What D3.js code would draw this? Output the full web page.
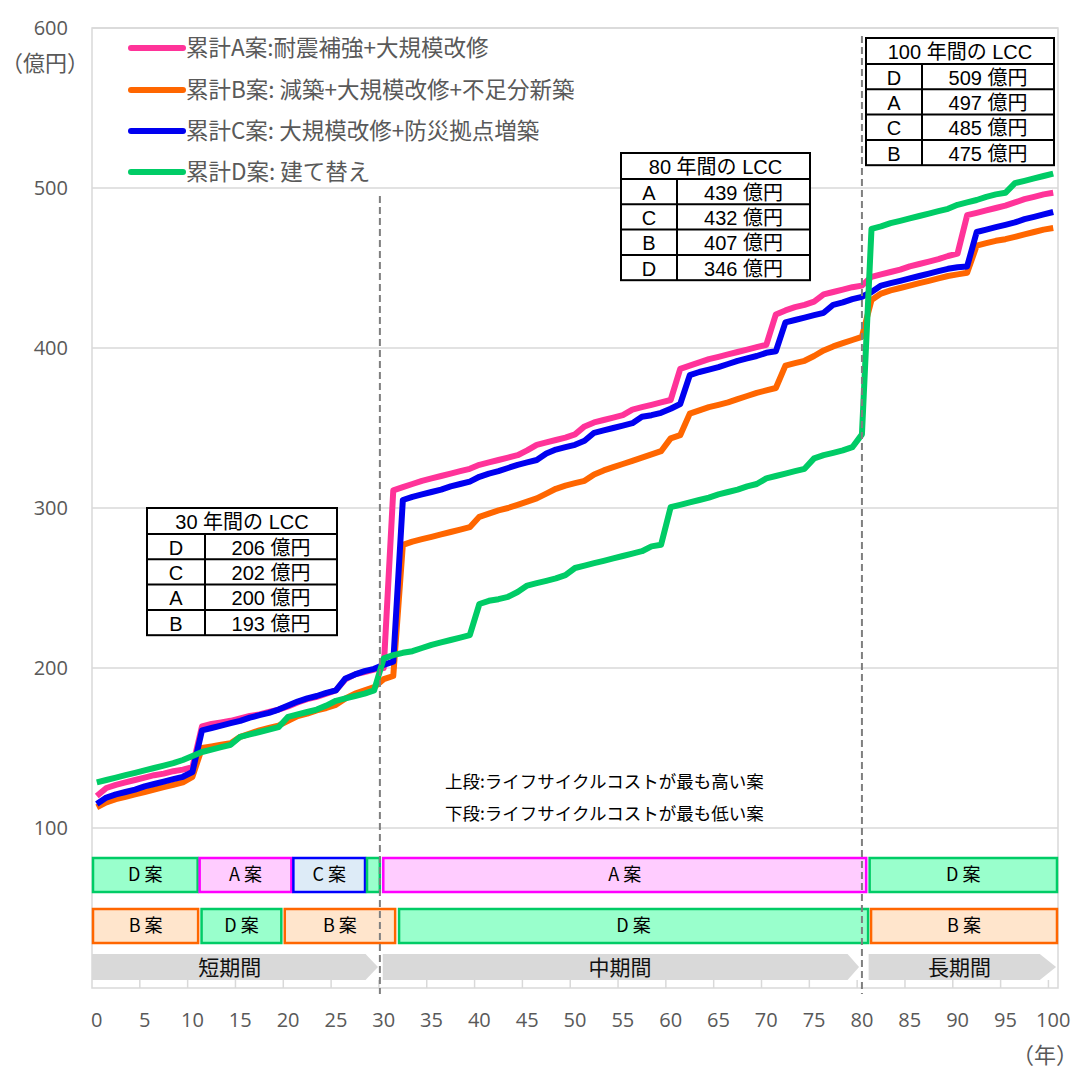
<!DOCTYPE html>
<meta charset="utf-8">
<style>
body { margin: 0; background: #fff; }
.tick-label { font-family: "Open Sans", "Noto Sans", sans-serif; font-size: 20px; fill: #595959; }
.jp { font-family: "Noto Sans CJK JP", sans-serif; }
.tbl { font-family: "Liberation Sans", "Noto Sans CJK JP", sans-serif; font-size: 20px; fill: #000; }
</style>
<svg width="1077" height="1068"></svg>
<script src="https://cdn.jsdelivr.net/npm/d3@7"></script>
<script>

// cumulative cost (億円) for year 0..100
var planA = [120,125,127,128.5,130,131.5,133,134,135.5,136.5,138,
  163.5,165,166,167,168.5,170,171,172.5,174,176,178.5,180.5,182,184,186,193,196,197.5,199,200,
  311,313,315,317,318.5,320,321.5,323,324.5,327,328.5,330,331.5,333,336,339.5,341,342.5,344,346,
  351,353.5,355,356.5,358,361.5,363,364.5,366,367.5,387,389,391,393,394.5,396,397.5,399,400.5,402,
  421,423.5,425.5,427,429,433.5,435,436.5,438,439,444.5,446,447.5,449,451,452.5,454,455.5,457.5,459,
  483,484.5,486,487.5,489,491,493,494.5,496,497];

var planB = [113,116,118,119.5,121,122.5,124,125.5,127,128.5,132,
  150,151,152,153,157,159,161,162.5,164,167,170,171.5,173.5,175,177,181,184,186,188,193,
  195,277,279,280.5,282,283.5,285,286.5,288,294.5,296.5,298.5,300,302,304,306,309,312,314,315.5,
  317,321,323.5,325.5,327.5,329.5,331.5,333.5,335.5,343.5,345.5,359,361,363,364.5,366,368,370,372,373.5,
  375,389,390.5,392,395,398.5,401,403,405,407,430,434,436,437.5,439,440.5,442,443.5,445,446,
  447,464,465.5,467,468,469.5,471,472.5,474,475];

var planC = [115,119,121,122.5,124,126,127.5,129,130.5,132,135,
  161,162.5,164,165.5,167,169,170.5,172,174,176.5,179,181,182.5,184.5,186,193.5,196,198,199.5,202,
  204,305,307,308.5,310,311.5,313.5,315,316.5,319.5,321.5,323,325,327,328.5,330,334,336.5,338,339.5,
  342,347,348.5,350,351.5,353,357,358,359.5,362,365,383,385,386.5,388,390,392,393.5,395,397,
  398,416,417.5,419,420.5,422,427,428.5,430.5,432,435,439,440.5,442,443.5,445,446.5,448,449.5,450.5,
  451,472.5,474,475.5,477,478.5,480.5,482,483.5,485];

var planD = [128.5,130,131.5,133,134.5,136,137.5,139,140.5,142.5,145,
  147.5,149,150.5,152,157,158.5,160,161.5,163,169.5,171,172.5,174,176.5,179.5,181,182.5,184,186,206,
  208,209.5,210.5,212.5,214.5,216,217.5,219,220.5,240,242,243,244.5,247.5,251.5,253,254.5,256,258,262.5,
  264,265.5,267,268.5,270,271.5,273,276,277,300.5,302,303.5,305,306.5,308.5,310,311.5,313.5,315,318.5,
  320,321.5,323,324.5,331,333,334.5,336,338,346,474.5,476,478,479.5,481,482.5,484,485.5,487,489.5,
  491,492.5,494.5,496,497,503,504.5,506,507.5,509];

var seriesNames = ["累計A案:耐震補強+大規模改修", "累計B案: 減築+大規模改修+不足分新築",
                   "累計C案: 大規模改修+防災拠点増築", "累計D案: 建て替え"];
var seriesColors = ["#FF3399", "#FF6600", "#0000F0", "#00CC66"];
var seriesData = [planA, planB, planC, planD];

var yTicks = [100, 200, 300, 400, 500, 600];
var xTicks = d3.range(0, 101, 5);

// LCC tables
var lcc30 = [["D", "206 億円"], ["C", "202 億円"], ["A", "200 億円"], ["B", "193 億円"]];
var lcc80 = [["A", "439 億円"], ["C", "432 億円"], ["B", "407 億円"], ["D", "346 億円"]];
var lcc100 = [["D", "509 億円"], ["A", "497 億円"], ["C", "485 億円"], ["B", "475 億円"]];

// best/worst plan bands (years)
var upperRow = [[-0.5, 10.65, "D"], [10.65, 20.45, "A"], [20.45, 28.15, "C"], [28.15, 29.7, "D"],
                [29.85, 80.55, "A"], [80.7, 100.5, "D"]];
var lowerRow = [[-0.5, 10.7, "B"], [10.85, 19.4, "D"], [19.55, 31.3, "B"], [31.5, 80.75, "D"], [80.85, 100.5, "B"]];
var periods = [[-0.5, 28.1, 29.4, 13.9, "短期間"], [29.9, 78.5, 79.7, 54.7, "中期間"], [80.7, 98.6, 100.3, 90.2, "長期間"]];
var dividers = [[29.6, 500], [80, 600]];

var planStyle = {
  A: {fill: "#FFCCFF", stroke: "#FF00FF"},
  B: {fill: "#FFE5CC", stroke: "#FF6600"},
  C: {fill: "#DDEBF7", stroke: "#0000FF"},
  D: {fill: "#99FFCC", stroke: "#00CC66"}
};

var svg = d3.select("svg");
var x = d3.scaleLinear().domain([-0.5, 100.5]).range([92, 1058]);
var y = d3.scaleLinear().domain([0, 600]).range([988, 28]);

// grid
svg.append("g").selectAll("line").data(yTicks).enter().append("line")
    .attr("x1", 92).attr("x2", 1058)
    .attr("y1", function(d) { return y(d); }).attr("y2", function(d) { return y(d); })
    .attr("stroke", "#D9D9D9").attr("stroke-width", 1.5);

svg.append("rect").attr("x", 92).attr("y", 28).attr("width", 966).attr("height", 960)
    .attr("fill", "none").attr("stroke", "#D9D9D9").attr("stroke-width", 1.5);

// small ticks on bottom axis, between categories
svg.append("g").selectAll("line").data(d3.range(4.5, 100, 5)).enter().append("line")
    .attr("x1", function(d) { return x(d); }).attr("x2", function(d) { return x(d); })
    .attr("y1", 988).attr("y2", 980)
    .attr("stroke", "#D9D9D9").attr("stroke-width", 1.5);

// y labels
svg.append("g").selectAll("text").data(yTicks).enter().append("text")
    .attr("class", "tick-label")
    .attr("x", 68).attr("y", function(d) { return y(d); })
    .attr("dy", "0.35em").attr("text-anchor", "end")
    .text(function(d) { return d; });

svg.append("text").attr("class", "jp").attr("x", 45).attr("y", 63).attr("dy", "0.35em")
    .attr("text-anchor", "middle").attr("font-size", 22).attr("fill", "#595959").text("（億円）");

// x labels
svg.append("g").selectAll("text").data(xTicks).enter().append("text")
    .attr("class", "tick-label")
    .attr("x", function(d) { return x(d); }).attr("y", 1020)
    .attr("dy", "0.35em").attr("text-anchor", "middle")
    .text(function(d) { return d; });

svg.append("text").attr("class", "jp").attr("x", 1045).attr("y", 1055).attr("dy", "0.35em")
    .attr("text-anchor", "middle").attr("font-size", 22).attr("fill", "#595959").text("（年）");

// band rows
function drawRow(rows, top, h) {
  var g = svg.append("g").selectAll("g").data(rows).enter().append("g");
  g.append("rect")
      .attr("x", function(d) { return x(d[0]) + 1; })
      .attr("y", top)
      .attr("width", function(d) { return x(d[1]) - x(d[0]) - 2; })
      .attr("height", h)
      .attr("fill", function(d) { return planStyle[d[2]].fill; })
      .attr("stroke", function(d) { return planStyle[d[2]].stroke; })
      .attr("stroke-width", 2.5);
  g.filter(function(d) { return d[1] - d[0] > 3; }).append("text")
      .attr("class", "jp")
      .attr("x", function(d) { return (x(d[0]) + x(d[1])) / 2; })
      .attr("y", top + h / 2).attr("dy", "0.35em")
      .attr("text-anchor", "middle").attr("font-size", 18).attr("fill", "#000")
      .text(function(d) { return d[2] + " 案"; });
}
drawRow(upperRow, 858, 34);
drawRow(lowerRow, 909, 34);

// period arrows
var pg = svg.append("g").selectAll("g").data(periods).enter().append("g");
pg.append("path")
    .attr("d", function(d) {
      var a = x(d[0]), b = x(d[1]), t = x(d[2]);
      return "M" + a + ",954L" + b + ",954L" + t + ",967L" + b + ",980L" + a + ",980Z";
    })
    .attr("fill", "#D9D9D9");
pg.append("text").attr("class", "jp")
    .attr("x", function(d) { return x(d[3]); }).attr("y", 968).attr("dy", "0.35em")
    .attr("text-anchor", "middle").attr("font-size", 21).attr("fill", "#111")
    .text(function(d) { return d[4]; });

// lines
var line = d3.line().x(function(d, i) { return x(i); }).y(function(d) { return y(d); });
svg.append("g").selectAll("path").data(seriesData).enter().append("path")
    .attr("d", line)
    .attr("fill", "none")
    .attr("stroke", function(d, i) { return seriesColors[i]; })
    .attr("stroke-width", 6)
    .attr("stroke-linejoin", "round");

// period dividers
svg.append("g").selectAll("line").data(dividers).enter().append("line")
    .attr("x1", function(d) { return x(d[0]); }).attr("x2", function(d) { return x(d[0]); })
    .attr("y1", function(d) { return y(d[1]) + 8; }).attr("y2", 994)
    .attr("stroke", "#7F7F7F").attr("stroke-width", 2).attr("stroke-dasharray", "7,4");

// legend
var lg = svg.append("g").selectAll("g").data(seriesNames).enter().append("g")
    .attr("transform", function(d, i) { return "translate(0," + [48, 90, 131, 172][i] + ")"; });
lg.append("line").attr("x1", 131).attr("x2", 183)
    .attr("stroke", function(d, i) { return seriesColors[i]; })
    .attr("stroke-width", 6).attr("stroke-linecap", "round");
lg.append("text").attr("class", "jp").attr("x", 186).attr("dy", "0.35em")
    .attr("font-size", 22.5).attr("fill", "#595959")
    .text(function(d) { return d; });

// notes
svg.append("text").attr("class", "jp").attr("x", 445).attr("y", 782).attr("dy", "0.35em")
    .attr("font-size", 17.5).attr("fill", "#000").text("上段:ライフサイクルコストが最も高い案");
svg.append("text").attr("class", "jp").attr("x", 445).attr("y", 814).attr("dy", "0.35em")
    .attr("font-size", 17.5).attr("fill", "#000").text("下段:ライフサイクルコストが最も低い案");

// LCC tables
function drawTable(title, rows, left, top, w, colW) {
  var rh = 25.3, hh = 26;
  var g = svg.append("g");
  g.append("rect").attr("x", left).attr("y", top).attr("width", w).attr("height", hh + rh * rows.length)
      .attr("fill", "#fff").attr("stroke", "#000").attr("stroke-width", 2);
  g.append("text").attr("class", "tbl").attr("x", left + w / 2).attr("y", top + hh / 2 + 1)
      .attr("dy", "0.35em").attr("text-anchor", "middle").text(title);
  rows.forEach(function(r, i) {
    var ty = top + hh + rh * i;
    g.append("line").attr("x1", left).attr("x2", left + w).attr("y1", ty).attr("y2", ty)
        .attr("stroke", "#000").attr("stroke-width", 2);
    g.append("text").attr("class", "tbl").attr("x", left + colW / 2).attr("y", ty + rh / 2 + 1)
        .attr("dy", "0.35em").attr("text-anchor", "middle").text(r[0]);
    g.append("text").attr("class", "tbl").attr("x", left + colW + (w - colW) / 2).attr("y", ty + rh / 2 + 1)
        .attr("dy", "0.35em").attr("text-anchor", "middle").text(r[1]);
  });
  g.append("line").attr("x1", left + colW).attr("x2", left + colW)
      .attr("y1", top + hh).attr("y2", top + hh + rh * rows.length)
      .attr("stroke", "#000").attr("stroke-width", 2);
}
drawTable("30 年間の LCC", lcc30, 147, 508, 190, 58);
drawTable("80 年間の LCC", lcc80, 621, 153, 189, 56);
drawTable("100 年間の LCC", lcc100, 866, 38, 188, 56);

</script>
